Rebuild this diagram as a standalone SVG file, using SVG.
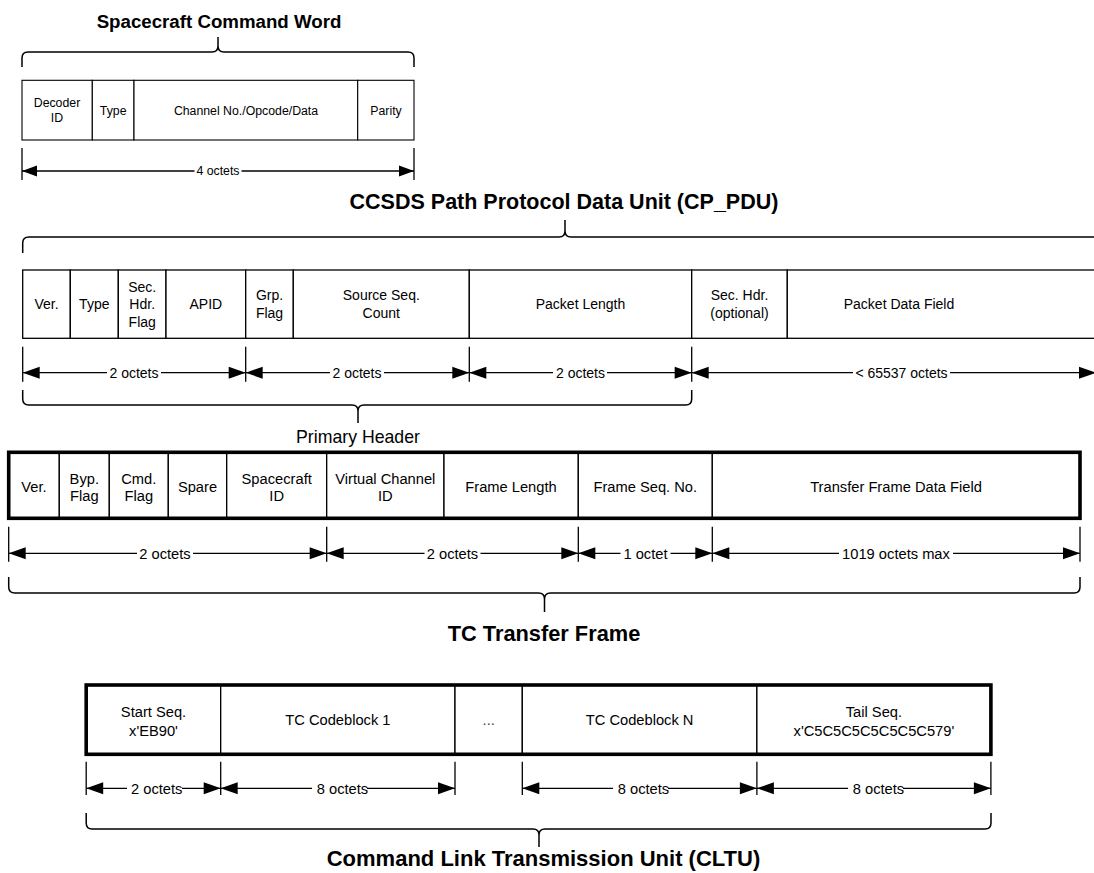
<svg xmlns="http://www.w3.org/2000/svg" width="1094" height="873" viewBox="0 0 1094 873">
<style>
text{font-family:"Liberation Sans",Arial,Helvetica,sans-serif;fill:#000;text-anchor:middle}
.title1{font-size:18.7px;font-weight:bold}
.title{font-size:21.5px;font-weight:bold}
.s12{font-size:12.3px}
.s14{font-size:14px}
.s15{font-size:14.7px}
.ph{font-size:17.7px}
.cell{fill:#fff;stroke:#000;stroke-width:1.3}
.cell1{fill:#fff;stroke:#000;stroke-width:1.1}
.frame{fill:none;stroke:#000;stroke-width:3.6}
.brace{fill:none;stroke:#000;stroke-width:1.5}
.dim{stroke:#000;stroke-width:1.3;fill:none}
.tick{stroke:#000;stroke-width:1.3}
.ae{marker-end:url(#ah)}
.ae1{marker-end:url(#ah1)}
</style>
<defs>
<marker id="ah" markerUnits="userSpaceOnUse" markerWidth="17" markerHeight="12" refX="17" refY="6" orient="auto" overflow="visible"><path d="M0,0 L17,6 L0,12 Z" fill="#000"/></marker>
<marker id="ah1" markerUnits="userSpaceOnUse" markerWidth="15" markerHeight="11" refX="15" refY="5.5" orient="auto" overflow="visible"><path d="M0,0 L15,5.5 L0,11 Z" fill="#000"/></marker>
</defs>

<!-- ===== Spacecraft Command Word ===== -->
<g id="scw-title"><text class="title1" x="219" y="28">Spacecraft Command Word</text></g>
<g id="scw-decoder"><rect class="cell1" x="22" y="80.3" width="70.3" height="59.7"/><text class="s12" x="57" y="107.4">Decoder</text><text class="s12" x="57" y="122.4">ID</text></g>
<g id="scw-type"><rect class="cell1" x="92.3" y="80.3" width="41.7" height="59.7"/><text class="s12" x="113.2" y="115.4">Type</text></g>
<g id="scw-channel"><rect class="cell1" x="134" y="80.3" width="223.7" height="59.7"/><text class="s12" x="246" y="115.4">Channel No./Opcode/Data</text></g>
<g id="scw-parity"><rect class="cell1" x="357.7" y="80.3" width="56.3" height="59.7"/><text class="s12" x="386" y="115.4">Parity</text></g>

<!-- ===== CP_PDU ===== -->
<g id="cp-title"><text class="title" x="564" y="209">CCSDS Path Protocol Data Unit (CP_PDU)</text></g>
<g id="cp-ver"><rect class="cell" x="22.7" y="270" width="47.6" height="68.3"/><text class="s14" x="46.5" y="309.3">Ver.</text></g>
<g id="cp-type"><rect class="cell" x="70.3" y="270" width="48" height="68.3"/><text class="s14" x="94.3" y="309.3">Type</text></g>
<g id="cp-shf"><rect class="cell" x="118.3" y="270" width="47.7" height="68.3"/><text class="s14" x="142.2" y="291.7">Sec.</text><text class="s14" x="142.2" y="309.3">Hdr.</text><text class="s14" x="142.2" y="327">Flag</text></g>
<g id="cp-apid"><rect class="cell" x="166" y="270" width="79.7" height="68.3"/><text class="s14" x="205.8" y="309.3">APID</text></g>
<g id="cp-grp"><rect class="cell" x="245.7" y="270" width="47.6" height="68.3"/><text class="s14" x="269.5" y="300">Grp.</text><text class="s14" x="269.5" y="318.2">Flag</text></g>
<g id="cp-ssc"><rect class="cell" x="293.3" y="270" width="176" height="68.3"/><text class="s14" x="381.3" y="300">Source Seq.</text><text class="s14" x="381.3" y="318.2">Count</text></g>
<g id="cp-plen"><rect class="cell" x="469.3" y="270" width="222.4" height="68.3"/><text class="s14" x="580.5" y="309.3">Packet Length</text></g>
<g id="cp-sechdr"><rect class="cell" x="691.7" y="270" width="95.6" height="68.3"/><text class="s14" x="739.5" y="300">Sec. Hdr.</text><text class="s14" x="739.5" y="318.2">(optional)</text></g>
<g id="cp-data"><rect class="cell" x="787.3" y="270" width="330" height="68.3"/><text class="s14" x="899" y="309.3">Packet Data Field</text></g>
<g id="cp-primary-label"><text class="ph" x="358" y="443">Primary Header</text></g>

<!-- ===== TC Transfer Frame ===== -->
<g id="tc-ver"><rect class="cell" x="8.7" y="452.3" width="50.6" height="66"/><text class="s15" x="34" y="492">Ver.</text></g>
<g id="tc-byp"><rect class="cell" x="59.3" y="452.3" width="50" height="66"/><text class="s15" x="84.3" y="483.6">Byp.</text><text class="s15" x="84.3" y="501.3">Flag</text></g>
<g id="tc-cmd"><rect class="cell" x="109.3" y="452.3" width="59" height="66"/><text class="s15" x="138.8" y="483.6">Cmd.</text><text class="s15" x="138.8" y="501.3">Flag</text></g>
<g id="tc-spare"><rect class="cell" x="168.3" y="452.3" width="58.4" height="66"/><text class="s15" x="197.5" y="492">Spare</text></g>
<g id="tc-scid"><rect class="cell" x="226.7" y="452.3" width="100" height="66"/><text class="s15" x="276.7" y="483.6">Spacecraft</text><text class="s15" x="276.7" y="501.3">ID</text></g>
<g id="tc-vcid"><rect class="cell" x="326.7" y="452.3" width="117.3" height="66"/><text class="s15" x="385.3" y="483.6">Virtual Channel</text><text class="s15" x="385.3" y="501.3">ID</text></g>
<g id="tc-flen"><rect class="cell" x="444" y="452.3" width="134.3" height="66"/><text class="s15" x="511" y="492">Frame Length</text></g>
<g id="tc-fseq"><rect class="cell" x="578.3" y="452.3" width="134" height="66"/><text class="s15" x="645.3" y="492">Frame Seq. No.</text></g>
<g id="tc-data"><rect class="cell" x="712.3" y="452.3" width="367.7" height="66"/><text class="s15" x="896" y="492">Transfer Frame Data Field</text></g>
<g id="tc-frame"><rect class="frame" x="8.7" y="452.3" width="1071.3" height="66"/></g>
<g id="tc-title"><text class="title" x="544" y="641" style="font-size:21.8px">TC Transfer Frame</text></g>

<!-- ===== CLTU ===== -->
<g id="cltu-start"><rect class="cell" x="86.2" y="685" width="134.5" height="69.3"/><text class="s15" x="153.5" y="716.5">Start Seq.</text><text class="s15" x="153.5" y="735.5">x'EB90'</text></g>
<g id="cltu-cb1"><rect class="cell" x="220.7" y="685" width="234.3" height="69.3"/><text class="s15" x="337.9" y="725.3">TC Codeblock 1</text></g>
<g id="cltu-dots"><rect class="cell" x="455" y="685" width="67.3" height="69.3"/><text class="s15" x="488.7" y="725.3" style="fill:#444">...</text></g>
<g id="cltu-cbn"><rect class="cell" x="522.3" y="685" width="234.6" height="69.3"/><text class="s15" x="639.6" y="725.3">TC Codeblock N</text></g>
<g id="cltu-tail"><rect class="cell" x="756.9" y="685" width="234" height="69.3"/><text class="s15" x="873.9" y="716.5">Tail Seq.</text><text class="s15" x="873.9" y="735.5">x'C5C5C5C5C5C5C579'</text></g>
<g id="cltu-frame"><rect class="frame" x="86.2" y="685" width="904.7" height="69.3"/></g>
<g id="cltu-title"><text class="title" x="543.5" y="866" style="font-size:22px">Command Link Transmission Unit (CLTU)</text></g>

<!-- ===== Connectors: braces and dimension arrows ===== -->
<g id="connectors">
  <!-- braces -->
  <path class="brace" d="M22,67 V58 Q22,52 28,52 H212 Q218,52 218,46 V37 M218,46 Q218,52 224,52 H408 Q414,52 414,58 V67"/>
  <path class="brace" d="M22.7,253 V243 Q22.7,237 29,237 H559 Q565,237 565,231 V220 M565,231 Q565,237 571,237 H1100"/>
  <path class="brace" d="M22.7,390 V399 Q22.7,405 29,405 H352 Q358,405 358,411 V423 M358,411 Q358,405 364,405 H685.7 Q691.7,405 691.7,399 V390"/>
  <path class="brace" d="M8.7,577 V587 Q8.7,593 15,593 H538.5 Q544.5,593 544.5,599 V612 M544.5,599 Q544.5,593 550.5,593 H1074 Q1080,593 1080,587 V577"/>
  <path class="brace" d="M86.2,813 V823 Q86.2,829 92,829 H533 Q539,829 539,835 V847 M539,835 Q539,829 545,829 H985 Q991,829 991,823 V813"/>

  <!-- Section 1 dimension -->
  <line class="tick" x1="22" y1="148" x2="22" y2="180"/>
  <line class="tick" x1="414" y1="148" x2="414" y2="180"/>
  <line class="dim ae1" x1="194.5" y1="171" x2="22" y2="171"/>
  <line class="dim ae1" x1="241.5" y1="171" x2="414" y2="171"/>
  <text class="s12" x="218" y="175.3">4 octets</text>

  <!-- CP_PDU dimensions -->
  <line class="tick" x1="22.7" y1="346.7" x2="22.7" y2="381.7"/>
  <line class="tick" x1="245.7" y1="346.7" x2="245.7" y2="381.7"/>
  <line class="tick" x1="469.3" y1="346.7" x2="469.3" y2="381.7"/>
  <line class="tick" x1="691.7" y1="346.7" x2="691.7" y2="381.7"/>
  <line class="dim ae" x1="107" y1="372.7" x2="22.7" y2="372.7"/>
  <line class="dim ae" x1="161" y1="372.7" x2="245.7" y2="372.7"/>
  <text class="s14" x="134" y="377.7">2 octets</text>
  <line class="dim ae" x1="330" y1="372.7" x2="245.7" y2="372.7"/>
  <line class="dim ae" x1="384" y1="372.7" x2="469.3" y2="372.7"/>
  <text class="s14" x="357" y="377.7">2 octets</text>
  <line class="dim ae" x1="553" y1="372.7" x2="469.3" y2="372.7"/>
  <line class="dim ae" x1="607" y1="372.7" x2="691.7" y2="372.7"/>
  <text class="s14" x="580.5" y="377.7">2 octets</text>
  <line class="dim ae" x1="853" y1="372.7" x2="691.7" y2="372.7"/>
  <line class="dim ae" x1="950" y1="372.7" x2="1096" y2="372.7"/>
  <text class="s14" x="901.5" y="377.7">&lt; 65537 octets</text>

  <!-- TC frame dimensions -->
  <line class="tick" x1="8.7" y1="526.7" x2="8.7" y2="561.7"/>
  <line class="tick" x1="326.7" y1="526.7" x2="326.7" y2="561.7"/>
  <line class="tick" x1="578.3" y1="526.7" x2="578.3" y2="561.7"/>
  <line class="tick" x1="712.3" y1="526.7" x2="712.3" y2="561.7"/>
  <line class="tick" x1="1080" y1="526.7" x2="1080" y2="561.7"/>
  <line class="dim ae" x1="137" y1="553.3" x2="8.7" y2="553.3"/>
  <line class="dim ae" x1="193" y1="553.3" x2="326.7" y2="553.3"/>
  <text class="s15" x="165" y="558.5">2 octets</text>
  <line class="dim ae" x1="424.5" y1="553.3" x2="326.7" y2="553.3"/>
  <line class="dim ae" x1="480.5" y1="553.3" x2="578.3" y2="553.3"/>
  <text class="s15" x="452.5" y="558.5">2 octets</text>
  <line class="dim ae" x1="620.5" y1="553.3" x2="578.3" y2="553.3"/>
  <line class="dim ae" x1="670.5" y1="553.3" x2="712.3" y2="553.3"/>
  <text class="s15" x="645.5" y="558.5">1 octet</text>
  <line class="dim ae" x1="839" y1="553.3" x2="712.3" y2="553.3"/>
  <line class="dim ae" x1="953" y1="553.3" x2="1080" y2="553.3"/>
  <text class="s15" x="896" y="558.5">1019 octets max</text>

  <!-- CLTU dimensions -->
  <line class="tick" x1="86.2" y1="761.7" x2="86.2" y2="795"/>
  <line class="tick" x1="220.7" y1="761.7" x2="220.7" y2="795"/>
  <line class="tick" x1="455" y1="761.7" x2="455" y2="795"/>
  <line class="tick" x1="522.3" y1="761.7" x2="522.3" y2="795"/>
  <line class="tick" x1="756.9" y1="761.7" x2="756.9" y2="795"/>
  <line class="tick" x1="990.9" y1="761.7" x2="990.9" y2="795"/>
  <line class="dim ae" x1="127" y1="788.3" x2="86.2" y2="788.3"/>
  <line class="dim ae" x1="182" y1="788.3" x2="220.7" y2="788.3"/>
  <text class="s15" x="156.7" y="793.5">2 octets</text>
  <line class="dim ae" x1="312" y1="788.3" x2="220.7" y2="788.3"/>
  <line class="dim ae" x1="367" y1="788.3" x2="455" y2="788.3"/>
  <text class="s15" x="342.5" y="793.5">8 octets</text>
  <line class="dim ae" x1="613" y1="788.3" x2="522.3" y2="788.3"/>
  <line class="dim ae" x1="668" y1="788.3" x2="756.9" y2="788.3"/>
  <text class="s15" x="643.5" y="793.5">8 octets</text>
  <line class="dim ae" x1="848" y1="788.3" x2="756.9" y2="788.3"/>
  <line class="dim ae" x1="903" y1="788.3" x2="990.9" y2="788.3"/>
  <text class="s15" x="878.5" y="793.5">8 octets</text>
</g>
</svg>
